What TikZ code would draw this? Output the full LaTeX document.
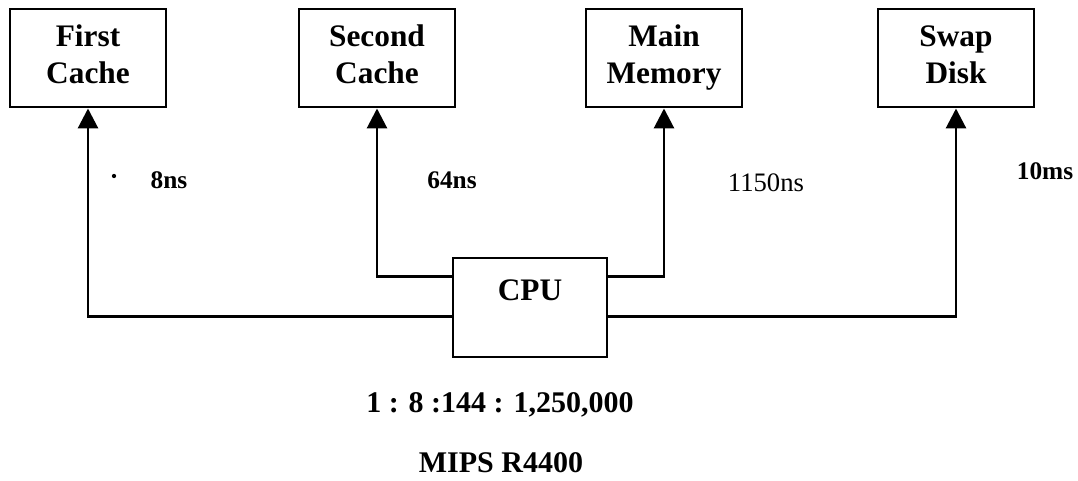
\documentclass[tikz,border=0pt]{standalone}
\usepackage{fontspec}
\setmainfont{Liberation Serif}
\usetikzlibrary{arrows.meta,calc}
\begin{document}
\begin{tikzpicture}[x=0.75pt,y=-0.75pt,
  box/.style={draw, line width=2.2pt, minimum width=117pt, minimum height=73.5pt,
    inner sep=0pt, align=center, font=\fontsize{23.5}{27.75}\selectfont\bfseries},
  cpubox/.style={draw, line width=2.2pt, minimum width=115.5pt, inner sep=0pt,
    text height=31.5pt, text depth=42.75pt, font=\fontsize{23.5}{27}\selectfont\bfseries},
  lbl/.style={font=\fontsize{19}{22}\selectfont\bfseries, inner sep=0pt, anchor=base},
  txt/.style={font=\fontsize{22.5}{27}\selectfont\bfseries, inner sep=0pt, anchor=base},
  conn/.style={line width=2.2pt, -{Triangle[width=15pt,length=15pt]}}]
\path[use as bounding box] (0,0) rectangle (1078,480);

\node[box] (fc) at (88,58) {First\\Cache\vphantom{y}};
\node[box] (sc) at (377,58) {Second\\Cache\vphantom{y}};
\node[box] (mm) at (664,58) {Main\\Memory};
\node[box] (sd) at (956,58) {Swap\\Disk\vphantom{y}};

\node[cpubox] (cpu) at (530,307.5) {CPU};

\draw[conn] ($(cpu.north west)+(0,60)$) -| (fc.south);
\draw[conn] ($(cpu.north west)+(0,20)$) -| (sc.south);
\draw[conn] ($(cpu.north east)+(0,20)$) -| (mm.south);
\draw[conn] ($(cpu.north east)+(0,60)$) -| (sd.south);

\node[circle, fill, inner sep=0pt, minimum size=3.2pt] (dot) at (114,176) {};
\node[lbl] (t1) at (169,188) {8ns};
\node[lbl] (t2) at (452,188) {64ns};
\node[lbl, font=\fontsize{20}{22}\selectfont] (t3) at (766,191) {1150ns};
\node[lbl] (t4) at (1045,179) {10ms};

\node[txt] (ratio) at (500,412) {1 : 8 :144 : 1,250,000};
\node[txt] (mips) at (501,472) {MIPS R4400};
\end{tikzpicture}
\end{document}
